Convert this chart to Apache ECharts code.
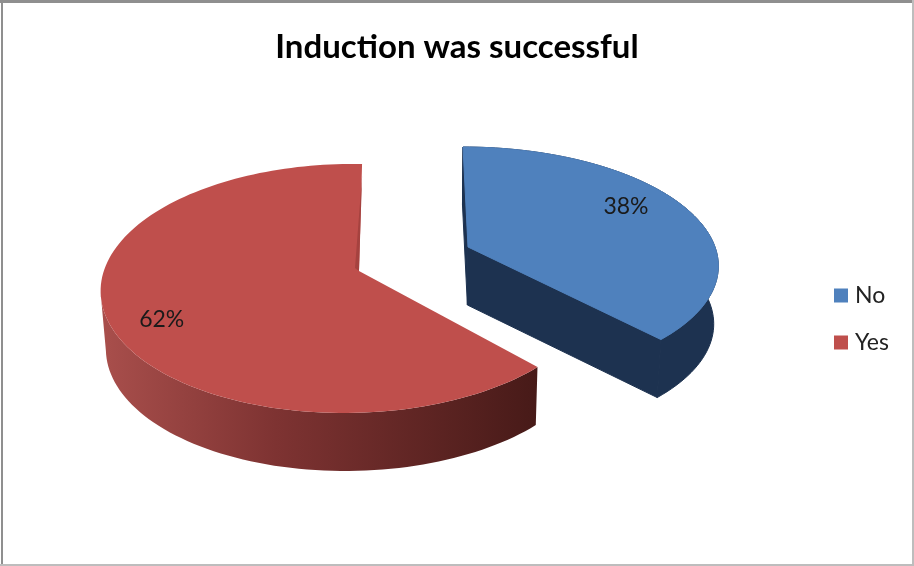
<!DOCTYPE html>
<html>
<head>
<meta charset="utf-8">
<style>html,body{margin:0;padding:0;background:#fff}#chart{width:914px;height:566px}</style>
<script src="https://cdn.jsdelivr.net/npm/echarts@6/dist/echarts.min.js"></script>
</head>
<body>
<div id="chart"></div>
<script>
var chartTitle = 'Induction was successful';
var categories = ['No', 'Yes'];
var values = [38, 62];
var faceColors = ['#4f81bd', '#bf4f4c'];

// how each exploded slice is projected (perspective disc, apex = pie centre)
var layouts = [
    {xa: 468, ya: 247, A: 247, B: 114, skew: -5.7, q: 0, labelR: 0.72, labelDy: -11},
    {xa: 359, ya: 271, A: 245, B: 122, skew: 3.5, q: 0.04, labelR: 0.8, labelDy: 10}
];
var tilt = 0.14;
var depth = 58;
var vanishX = 430;
var shrink = 0.016;

var total = values.reduce(function (a, b) { return a + b; }, 0);

function project(l, angle, r) {
    var u = r * Math.sin(angle), v = r * Math.cos(angle);
    var w = 1 + tilt * v + l.q * u;
    return [l.xa + (l.A * u + l.skew * v) / w, l.ya - l.B * v / w];
}
function lower(p) {
    return [p[0] - (p[0] - vanishX) * shrink, p[1] + depth];
}
function wall(points, fill, stroke) {
    var back = points.slice().reverse().map(lower);
    return {
        type: 'polygon',
        shape: {points: points.concat(back)},
        style: {fill: fill, stroke: stroke || null, lineWidth: stroke ? 1 : 0}
    };
}

function makeRender(index) {
    return function (params, api) {
        var l = layouts[index];
        var before = 0;
        for (var i = 0; i < index; i++) before += values[i];
        var a0 = before / total * Math.PI * 2;
        var a1 = (before + api.value(0)) / total * Math.PI * 2;

        var arc = [];
        var n = Math.round((a1 - a0) / 0.03);
        for (var k = 0; k <= n; k++) arc.push(project(l, a0 + (a1 - a0) * k / n, 1));
        var apex = [l.xa, l.ya];
        var first = arc[0], last = arc[arc.length - 1];
        var children = [];

        if (index === 0) {
            // same flat navy on all walls, stroke hides the seams between them
            children.push(wall(arc, '#1d3250', '#1d3250'));
            children.push(wall([apex, first], '#1d3250', '#1d3250'));
            children.push(wall([apex, last], '#1d3250', '#1d3250'));
        } else {
            // only the front part of the rim is seen, stop at the left extreme
            var leftmost = 0;
            arc.forEach(function (p, j) { if (p[0] < arc[leftmost][0]) leftmost = j; });
            children.push(wall(arc.slice(0, leftmost + 1), new echarts.graphic.LinearGradient(0, 0, 1, 0, [
                {offset: 0, color: '#a94f4c'},
                {offset: 0.4, color: '#7e3332'},
                {offset: 1, color: '#471a18'}
            ])));
        }
        children.push({
            type: 'polygon',
            shape: {points: [apex].concat(arc)},
            style: index === 0
                ? {fill: faceColors[index], stroke: faceColors[index], lineWidth: 1}
                : {fill: faceColors[index]}
        });
        if (index === 1) {
            // thin sliver of the cut face showing along the top edge
            children.push({
                type: 'polygon',
                shape: {points: [apex, [apex[0] - 4, apex[1] - 3], [last[0], last[1] + 12]]},
                style: {fill: '#a5423f'}
            });
        }
        var mid = project(l, (a0 + a1) / 2, l.labelR);
        children.push({
            type: 'text',
            style: {
                x: mid[0], y: mid[1] + l.labelDy,
                text: Math.round(api.value(0) / total * 100) + '%',
                font: '23px Lato',
                fill: '#1a1a1a',
                align: 'center',
                verticalAlign: 'middle'
            }
        });
        return {type: 'group', children: children};
    };
}

var chart = echarts.init(document.getElementById('chart'));
chart.setOption({
    animation: false,
    backgroundColor: '#ffffff',
    title: {
        text: chartTitle,
        left: 'center',
        top: 26,
        textStyle: {fontFamily: 'Lato', fontWeight: 'bold', fontSize: 33, color: '#000000'}
    },
    legend: {
        data: categories,
        orient: 'vertical',
        left: 829,
        top: 279,
        itemWidth: 14,
        itemHeight: 14,
        itemGap: 24,
        icon: 'rect',
        textStyle: {fontFamily: 'Lato', fontSize: 23, color: '#222222', padding: [0, 0, 0, 2]}
    },
    graphic: [
        {type: 'rect', shape: {x: 0, y: 0, width: 914, height: 3}, style: {fill: '#8f8f8f'}},
        {type: 'rect', shape: {x: 1, y: 0, width: 2, height: 566}, style: {fill: '#8f8f8f'}},
        {type: 'rect', shape: {x: 912, y: 0, width: 2, height: 566}, style: {fill: '#bdbdbd'}},
        {type: 'rect', shape: {x: 0, y: 564, width: 914, height: 2}, style: {fill: '#bdbdbd'}}
    ],
    series: categories.map(function (name, i) {
        return {
            name: name,
            type: 'custom',
            coordinateSystem: 'none',
            itemStyle: {color: faceColors[i]},
            renderItem: makeRender(i),
            data: [[values[i]]]
        };
    })
});
</script>
</body>
</html>
